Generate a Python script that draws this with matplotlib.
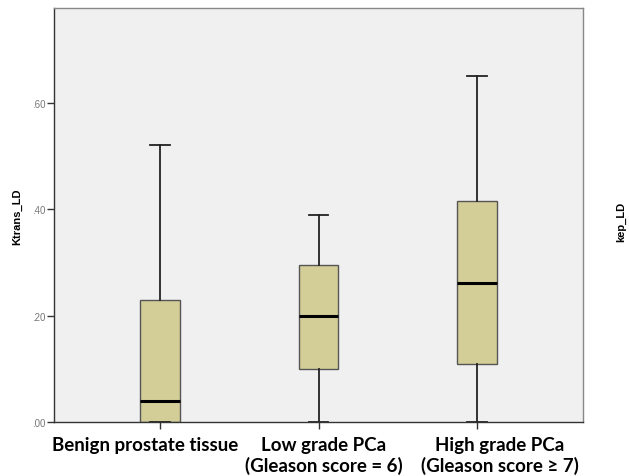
import matplotlib
matplotlib.use("Agg")
import matplotlib.pyplot as plt
from matplotlib.transforms import blended_transform_factory

categories = ["Benign prostate tissue", "Low grade PCa", "High grade PCa"]
subtitles = ["", "(Gleason score = 6)", "(Gleason score \u2265 7)"]
whislo = [0.0, 0.0, 0.0]
q1 = [0.0, 0.10, 0.11]
med = [0.04, 0.20, 0.261]
q3 = [0.23, 0.295, 0.416]
whishi = [0.521, 0.39, 0.651]
yticks = [0.0, 0.2, 0.4, 0.6]
ytick_labels = [".00", ".20", ".40", ".60"]

# label placement (data x) – the original labels are hand-placed, not centred on ticks
label_x = [0.905, 2.035, 3.142]

fig = plt.figure(figsize=(6.29, 4.77), dpi=100)
ax = fig.add_axes([54/629, 1 - 423/477, (583-54)/629, (423-9)/477])
ax.set_facecolor("#F0F0F0")

stats = []
for i in range(3):
    stats.append(dict(whislo=whislo[i], q1=q1[i], med=med[i], q3=q3[i], whishi=whishi[i], fliers=[], label=""))

ax.bxp(stats, positions=[1, 2, 3], widths=0.25, patch_artist=True, showfliers=False,
       boxprops=dict(facecolor="#D3CE97", edgecolor="#555555", linewidth=1.0),
       medianprops=dict(color="black", linewidth=2.2),
       whiskerprops=dict(color="#222222", linewidth=1.3),
       capprops=dict(color="#222222", linewidth=1.3),
       capwidths=0.125)

ax.set_xlim(0.331, 3.669)
ax.set_ylim(0, 0.7787)
ax.set_yticks(yticks)
ax.set_yticklabels(ytick_labels, fontsize=7, color="#777777", family="Liberation Sans")
ax.set_xticks([1, 2, 3])
ax.set_xticklabels(["", "", ""])
ax.tick_params(axis="y", length=5, width=1, color="#333333", pad=1)
ax.tick_params(axis="x", length=5, width=1, color="#333333")
for s in ax.spines.values():
    s.set_color("#888888")
    s.set_linewidth(1.0)
ax.spines["left"].set_color("#333333")
ax.spines["bottom"].set_color("#333333")

trans = blended_transform_factory(ax.transData, fig.transFigure)
for x, t1, t2 in zip(label_x, categories, subtitles):
    ax.text(x, 1 - 445/477, t1, transform=trans, ha="center", va="center",
            fontsize=13.5, fontweight="bold", family=["Lato", "DejaVu Sans"], clip_on=False)
    if t2:
        ax.text(x, 1 - 466/477, t2, transform=trans, ha="center", va="center",
                fontsize=13.5, fontweight="bold", family=["Lato", "DejaVu Sans"], clip_on=False)

fig.text(17/629, 1 - 217/477, "Ktrans_LD", rotation=90, ha="center", va="center",
         fontsize=8, fontweight="bold", family="Liberation Sans")
fig.text(621/629, 1 - 222/477, "kep_LD", rotation=90, ha="center", va="center",
         fontsize=8, fontweight="bold", family="Liberation Sans")

fig.savefig("out.png", dpi=100, facecolor="white")
